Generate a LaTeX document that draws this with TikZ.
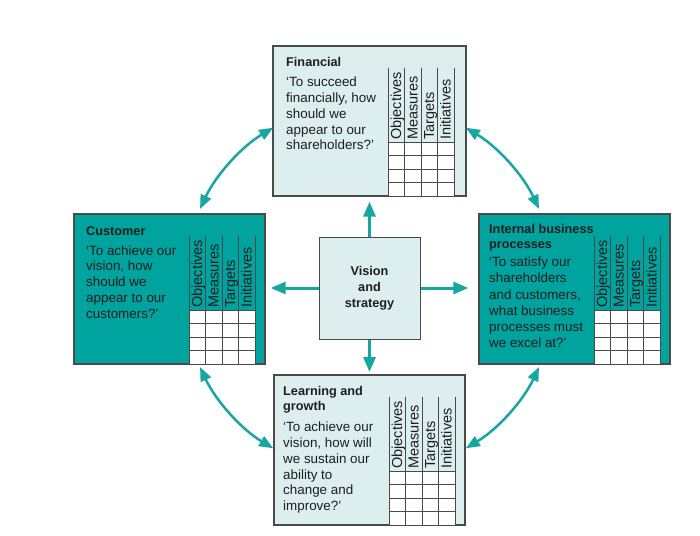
\documentclass[tikz,border=0pt]{standalone}
\usepackage{fontspec}
\setmainfont{Liberation Sans}
\usetikzlibrary{arrows.meta,calc}
\definecolor{tealfill}{HTML}{00A39D}
\definecolor{lightfill}{HTML}{DCEEEE}
\definecolor{edgegray}{HTML}{4A4A4A}
\definecolor{arrowteal}{HTML}{17A7A1}
\definecolor{ink}{HTML}{1E1E1E}
\newcommand\bscgrid[1]{%
  \begin{scope}[shift={(#1.north west)}]
    \fill[white] (115,-96) rectangle (181,-150);
    \foreach \xx in {115,131.5,148,164.5,181}
      \draw[gridline] (\xx,-21.5) -- (\xx,-150);
    \foreach \yy in {96,109.5,123,136.5}
      \draw[gridline] (115,-\yy) -- (181,-\yy);
    \foreach \lab [count=\i] in {Objectives,Measures,Targets,Initiatives}
      \node[collabel] (#1-col\i) at ({115+16.5*(\i-1)+13},-94) {\lab};
  \end{scope}}
\begin{document}
\begin{tikzpicture}[x=1pt,y=1pt,
  bscbox/.style={draw=edgegray, line width=1.2pt, rectangle, anchor=north west,
    minimum width=191pt, minimum height=150pt, inner sep=0pt, outer sep=0pt},
  titletext/.style={anchor=base west, inner sep=0pt, align=left, text=ink,
    font=\fontsize{12.7}{15}\selectfont\bfseries},
  bodytext/.style={anchor=base west, inner sep=0pt, align=left, text=ink,
    font=\fontsize{13.4}{15.8}\selectfont},
  collabel/.style={rotate=90, anchor=base west, inner sep=0pt, text=ink,
    font=\fontsize{14.5}{15}\selectfont},
  gridline/.style={draw=edgegray, line width=0.9pt},
  straightarrow/.style={draw=arrowteal, line width=3pt,
    -{Triangle[length=15pt,width=12pt]}},
  curvedarrow/.style={draw=arrowteal, line width=2.5pt,
    {Triangle[length=14pt,width=11pt]}-{Triangle[length=14pt,width=11pt]}},
]
\useasboundingbox (0,0) rectangle (700,-535);
\fill[white] (0,0) rectangle (700,-535);

% boxes
\node[bscbox, fill=lightfill, minimum width=193pt] (fin) at (273,-46) {};
\node[bscbox, fill=tealfill] (cus) at (74,-214) {};
\node[bscbox, fill=tealfill] (ibp) at (479,-214) {};
\node[bscbox, fill=lightfill] (lrn) at (274,-375) {};
\node[draw=edgegray, line width=1pt, fill=lightfill, minimum width=101pt,
  minimum height=102pt, inner sep=0pt] (vis) at (369.5,-288) {};

% grids
\bscgrid{fin}
\bscgrid{cus}
\bscgrid{ibp}
\bscgrid{lrn}

% texts (anchored at the baseline of the last line)
\node[titletext] (fin-t) at (286,-66.7) {Financial};
\node[bodytext] (fin-b) at (286,-149.9) {‘To succeed\\financially, how\\should we\\appear to our\\shareholders?’};

\node[titletext] (cus-t) at (86,-235) {Customer};
\node[bodytext] (cus-b) at (86,-318.2) {‘To achieve our\\vision, how\\should we\\appear to our\\customers?’};

\node[titletext] (ibp-t) at (489,-248.3) {Internal business\\processes};
\node[bodytext, font=\fontsize{13.4}{16.2}\selectfont] (ibp-b) at (489,-347.7) {‘To satisfy our\\shareholders\\and customers,\\what business\\processes must\\we excel at?’};

\node[titletext] (lrn-t) at (283,-410.7) {Learning and\\growth};
\node[bodytext] (lrn-b) at (283,-510.7) {‘To achieve our\\vision, how will\\we sustain our\\ability to\\change and\\improve?’};

\node[anchor=base, inner sep=0pt, align=center, text=ink,
  font=\fontsize{12.7}{16}\selectfont\bfseries] (vis-t) at (369.5,-307.5) {Vision\\and\\strategy};

% straight arrows
\draw[straightarrow, shorten >=5.7pt] (vis.north) -- (fin.south);
\draw[straightarrow, shorten >=3pt] (vis.south) -- (lrn.north);
\draw[straightarrow, shorten >=5.7pt] (vis.west) -- (vis.west -| cus.east);
\draw[straightarrow, shorten >=10.7pt] (vis.east) -- (vis.east -| ibp.west);

% curved arrows
\coordinate (ctr) at (vis.center);
\coordinate (a1) at ($(ctr)+(121:187)$);
\coordinate (a2) at ($(ctr)+(59:187)$);
\coordinate (a3) at ($(ctr)+(205:187)$);
\coordinate (a4) at ($(ctr)+(335:187)$);
\draw[curvedarrow] (a1) arc[start angle=121, end angle=155, radius=187pt];
\draw[curvedarrow] (a2) arc[start angle=59, end angle=25, radius=187pt];
\draw[curvedarrow] (a3) arc[start angle=205, end angle=239, radius=187pt];
\draw[curvedarrow] (a4) arc[start angle=335, end angle=301, radius=187pt];
\end{tikzpicture}
\end{document}
